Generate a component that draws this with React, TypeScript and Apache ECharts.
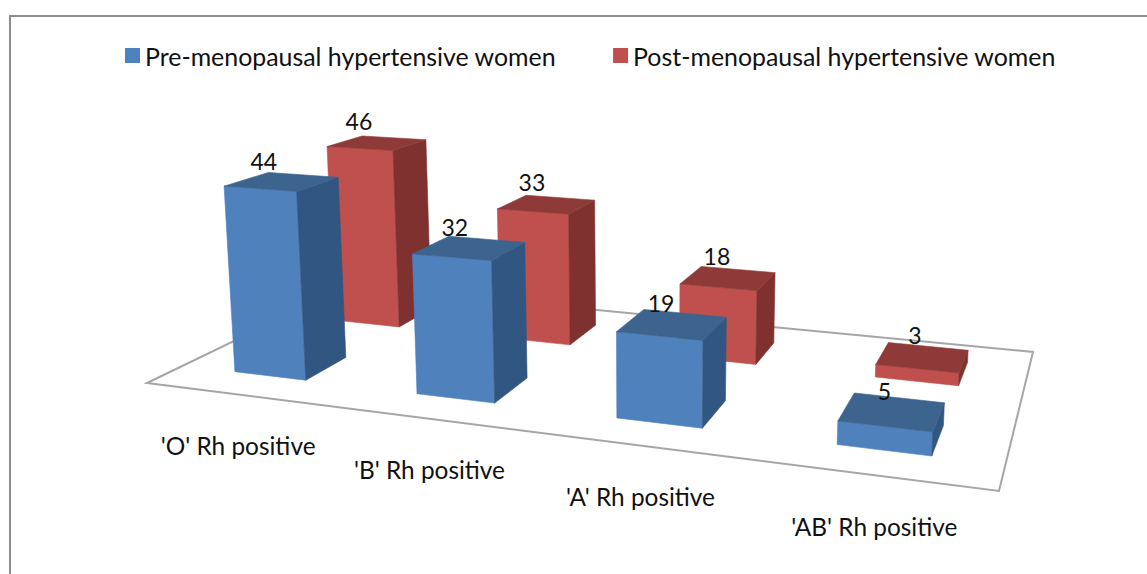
import React, { useEffect, useRef } from "react";
import * as echarts from "echarts";

const categories = ["'O' Rh positive", "'B' Rh positive", "'A' Rh positive", "'AB' Rh positive"];
const preMenopausal = [44, 32, 19, 5];
const postMenopausal = [46, 33, 18, 3];
const seriesNames = ["Pre-menopausal hypertensive women", "Post-menopausal hypertensive women"];

const FONT = "Lato";
const LEGEND_SIZE = 24.9;
const CATEGORY_SIZE = 24.4;
const VALUE_SIZE = 23;
const BLUE = { front: "#4f81bd", side: "#325682", top: "#3d638f" };
const RED = { front: "#c0504d", side: "#7e312f", top: "#8e3a38" };

// Perspective of the 3D plot: floor corners on screen, and how a unit of height moves a point
const FL = [147, 383], FR = [999, 491], BR = [1033, 352], BL = [348, 286];
const MAX_VALUE = 50;
const H = { c1: -0.385 * MAX_VALUE, c2: -4.43 * MAX_VALUE, c3: -0.000595 * MAX_VALUE };

function makeFloor() {
  const dx1 = FR[0] - BR[0], dx2 = BL[0] - BR[0], sx = FL[0] - FR[0] + BR[0] - BL[0];
  const dy1 = FR[1] - BR[1], dy2 = BL[1] - BR[1], sy = FL[1] - FR[1] + BR[1] - BL[1];
  const den = dx1 * dy2 - dx2 * dy1;
  const g = (sx * dy2 - dx2 * sy) / den;
  const i = (dx1 * sy - sx * dy1) / den;
  return {
    a: FR[0] - FL[0] + g * FR[0], b: BL[0] - FL[0] + i * BL[0], c: FL[0],
    d: FR[1] - FL[1] + g * FR[1], e: BL[1] - FL[1] + i * BL[1], f: FL[1],
    g, i,
  };
}
const M = makeFloor();

// u: along categories 0..1, v: depth 0..1, n: height as a share of the value axis
function project(u: number, v: number, n: number): number[] {
  const w = M.g * u + M.i * v + 1 + H.c3 * n;
  return [
    (M.a * u + M.b * v + M.c + H.c1 * n) / w,
    (M.d * u + M.e * v + M.f + H.c2 * n) / w,
  ];
}

function textEl(text: string, p: number[], fontSize: number) {
  return {
    type: "text",
    z2: 100,
    silent: true,
    style: {
      text, x: p[0], y: p[1], align: "center", verticalAlign: "middle",
      fontFamily: FONT, fontSize, fill: "#111111",
    },
  };
}

function poly(points: number[][], fill: string) {
  return {
    type: "polygon",
    silent: true,
    shape: { points },
    style: { fill, stroke: fill, lineWidth: 0.6 },
  };
}

function barRenderer(row: number, colors: typeof BLUE) {
  return (params: any, api: any) => {
    const cs = params.coordSys;
    const value = api.value(1);
    const pt = api.coord([api.value(0), value]);
    const u = (pt[0] - cs.x) / cs.width;
    const n = (cs.y + cs.height - pt[1]) / cs.height;
    const halfU = (0.4 * api.size([1, 0])[0]) / cs.width / 2;
    const vc = (row + 0.5) / 2;
    const halfV = 0.1;
    const fb = [project(u - halfU, vc - halfV, 0), project(u + halfU, vc - halfV, 0)];
    const bb = project(u + halfU, vc + halfV, 0);
    const ftl = project(u - halfU, vc - halfV, n), ftr = project(u + halfU, vc - halfV, n);
    const btr = project(u + halfU, vc + halfV, n), btl = project(u - halfU, vc + halfV, n);
    const c = project(u, vc, n);
    const label = [c[0] - 20 + 14 * u, c[1] - 21 - (row === 1 ? 1 : 0)];
    return {
      type: "group",
      children: [
        poly([ftl, ftr, fb[1], fb[0]], colors.front),
        poly([ftr, btr, bb, fb[1]], colors.side),
        poly([ftl, btl, btr, ftr], colors.top),
        textEl(String(value), label, VALUE_SIZE),
      ],
    };
  };
}

function floorRenderer(params: any, api: any) {
  const cs = params.coordSys;
  const idx = api.value(0);
  const pt = api.coord([idx, 0]);
  const u = (pt[0] - cs.x) / cs.width;
  const base = project(u, 0, 0);
  const children: any[] = [textEl(categories[idx], [base[0] + 2, base[1] + 51 + u], CATEGORY_SIZE)];
  if (params.dataIndex === 0) {
    children.unshift({
      type: "polygon",
      silent: true,
      shape: { points: [FL, FR, BR, BL] },
      style: { fill: "#ffffff", stroke: "#a6a6a6", lineWidth: 2 },
    });
  }
  return { type: "group", children };
}

export default function App() {
  const ref = useRef<HTMLDivElement>(null);
  useEffect(() => {
    const chart = echarts.init(ref.current!, null, { renderer: "svg" });
    const toData = (vals: number[]) => vals.map((v, i) => [i, v]);
    chart.setOption({
      animation: false,
      backgroundColor: "#ffffff",
      grid: { left: 0, right: 0, top: 0, bottom: 0 },
      xAxis: { type: "category", data: categories, show: false },
      yAxis: { type: "value", min: 0, max: MAX_VALUE, show: false },
      legend: {
        data: seriesNames,
        left: 120,
        top: 38,
        itemWidth: 15,
        itemHeight: 15,
        itemGap: 57,
        icon: "rect",
        textStyle: { fontFamily: FONT, fontSize: LEGEND_SIZE, color: "#111111", padding: [0, 0, 3, 0] },
      },
      graphic: [
        {
          type: "polyline",
          silent: true,
          shape: { points: [[10, 574], [10, 16], [1147, 16]] },
          style: { fill: "none", stroke: "#8c8c8c", lineWidth: 2 },
        },
      ],
      series: [
        { type: "custom", name: "floor", data: toData([0, 0, 0, 0]), renderItem: floorRenderer, z: 1 },
        {
          type: "custom",
          name: seriesNames[1],
          data: toData(postMenopausal),
          renderItem: barRenderer(1, RED),
          itemStyle: { color: RED.front },
          z: 2,
        },
        {
          type: "custom",
          name: seriesNames[0],
          data: toData(preMenopausal),
          renderItem: barRenderer(0, BLUE),
          itemStyle: { color: BLUE.front },
          z: 3,
        },
      ],
    });
    return () => chart.dispose();
  }, []);
  return (
    <div
      ref={ref}
      style={{ position: "absolute", left: 0, top: 0, width: 1147, height: 574 }}
    />
  );
}
